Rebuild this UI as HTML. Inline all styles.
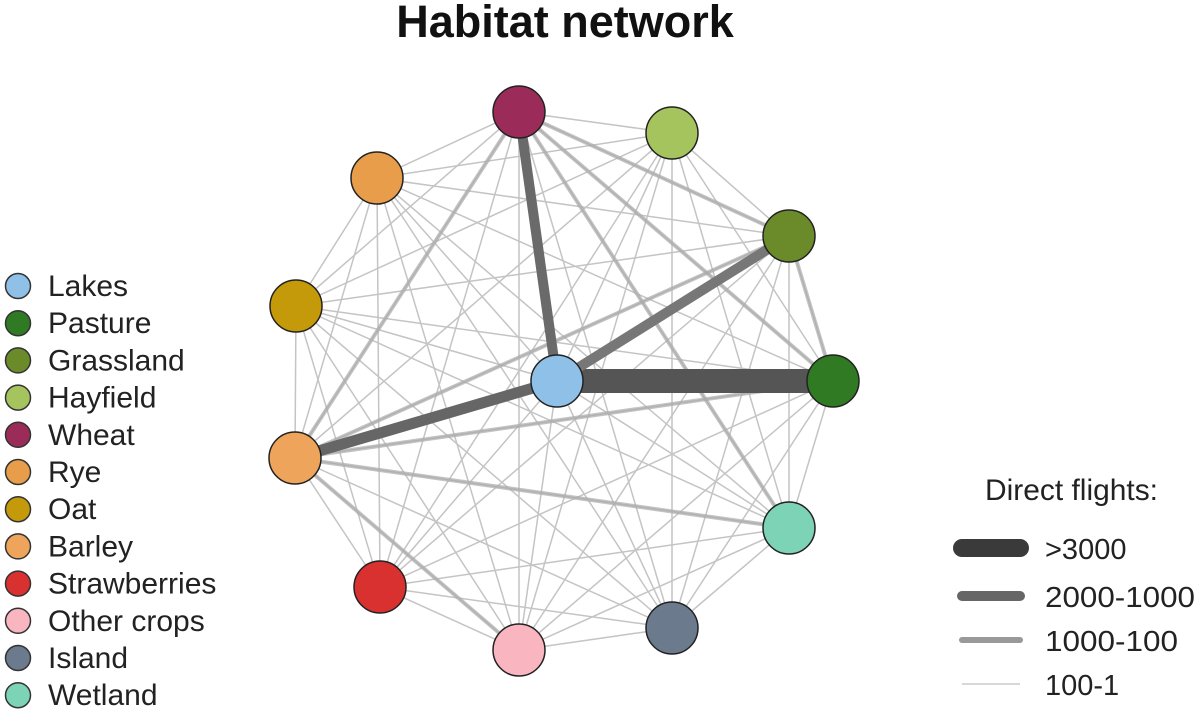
<!DOCTYPE html>
<html><head><meta charset="utf-8"><style>
body{margin:0;background:#fff;width:1200px;height:712px;overflow:hidden;font-family:"Liberation Sans",sans-serif;}
</style></head><body>
<svg width="1200" height="712" xmlns="http://www.w3.org/2000/svg" font-family="Liberation Sans, sans-serif">
<text x="565" y="37" font-size="45" font-weight="bold" text-anchor="middle" fill="#111">Habitat network</text>
<g id="edges" stroke-linecap="butt"></g>
<g id="nodes" stroke="#222" stroke-width="1.5"></g>
<g id="leg" font-size="30" fill="#222"></g>
<text x="985" y="500" font-size="30" fill="#222" textLength="173" lengthAdjust="spacingAndGlyphs">Direct flights:</text>
<line x1="962" y1="548" x2="1020" y2="548" stroke="#3a3a3a" stroke-width="18" stroke-linecap="round"/>
<line x1="962" y1="596" x2="1020" y2="596" stroke="#666" stroke-width="10" stroke-linecap="round"/>
<line x1="962" y1="640" x2="1020" y2="640" stroke="#999" stroke-width="6" stroke-linecap="round"/>
<line x1="962" y1="684" x2="1020" y2="684" stroke="#ccc" stroke-width="1.5"/>
<g font-size="29" fill="#222">
<text x="1045" y="559">&gt;3000</text>
<text x="1045" y="607" textLength="150" lengthAdjust="spacingAndGlyphs">2000-1000</text>
<text x="1045" y="651" textLength="133" lengthAdjust="spacingAndGlyphs">1000-100</text>
<text x="1045" y="695">100-1</text>
</g>
</svg>
<script>
var N={Lakes:[557,381,"#8fc1e8"],Pasture:[833,381,"#2f7a22"],Grassland:[789,236,"#6b8a2a"],Hayfield:[672,133,"#a6c45e"],Wheat:[519,112,"#9b2c5a"],Rye:[377,178,"#e89d4a"],Oat:[296,306,"#c49a0a"],Barley:[295,458,"#efa45c"],Strawberries:[380,587,"#d93030"],"Other crops":[519,650,"#f9b5c0"],Island:[672,628,"#6c7a8e"],Wetland:[789,528,"#7dd3b6"]};
var names=Object.keys(N),ns="http://www.w3.org/2000/svg";
function el(t,a,p){var e=document.createElementNS(ns,t);for(var k in a)e.setAttribute(k,a[k]);p.appendChild(e);return e;}
var E=document.getElementById("edges");
for(var i=0;i<names.length;i++)for(var j=i+1;j<names.length;j++){var a=N[names[i]],b=N[names[j]];el("line",{x1:a[0],y1:a[1],x2:b[0],y2:b[1],stroke:"#c4c4c4","stroke-width":1.5},E);}
var med=[["Wheat","Grassland"],["Wheat","Barley"],["Barley","Pasture"],["Barley","Wetland"],["Wheat","Pasture"],["Grassland","Barley"],["Barley","Other crops"],["Wheat","Wetland"],["Grassland","Pasture"]];
med.forEach(function(m){var a=N[m[0]],b=N[m[1]];el("line",{x1:a[0],y1:a[1],x2:b[0],y2:b[1],stroke:"#aaa","stroke-width":4,"stroke-opacity":0.7},E);});
var thick=[["Lakes","Pasture",24,"#555"],["Lakes","Barley",11,"#666"],["Lakes","Grassland",10,"#777"],["Lakes","Wheat",10,"#6a6a6a"]];
thick.forEach(function(m){var a=N[m[0]],b=N[m[1]];el("line",{x1:a[0],y1:a[1],x2:b[0],y2:b[1],stroke:m[3],"stroke-width":m[2]},E);});
var G=document.getElementById("nodes");
names.forEach(function(n){var a=N[n];el("circle",{cx:a[0],cy:a[1],r:26,fill:a[2]},G);});
var L=document.getElementById("leg");
names.forEach(function(n,k){var y=286+k*37.2;el("circle",{cx:18,cy:y,r:12.5,fill:N[n][2],stroke:"#333","stroke-width":1.5},L);var t=el("text",{x:48,y:y+10},L);t.textContent=n;});
</script>
</body></html>
